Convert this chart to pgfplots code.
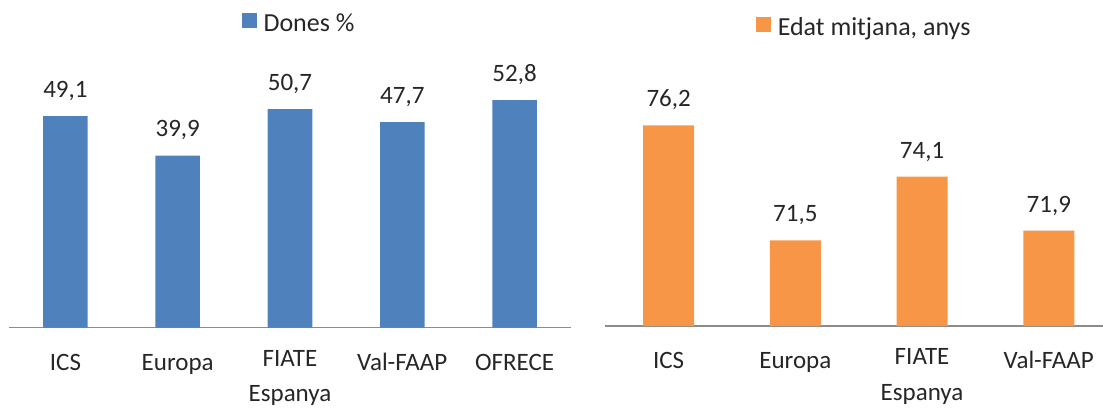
\documentclass[border=0pt]{standalone}
\usepackage{pgfplots}
\pgfplotsset{compat=1.18}
\usepackage{fontspec}
\setmainfont{Carlito}

\definecolor{donesblue}{HTML}{4F81BD}
\definecolor{edatorange}{HTML}{F79646}
\definecolor{axisgray}{HTML}{8C8C8C}

\pgfplotsset{
  barchart/.style={
    ybar,
    scale only axis,
    axis x line*=bottom,
    axis y line=none,
    x axis line style={draw=axisgray, line width=1.5pt},
    xtick=data,
    major tick length=0pt,
    xticklabel style={font=\fontsize{25}{35.5}\selectfont, align=center,
      anchor=north, inner sep=0pt, yshift=-22.5pt, text=black!85,
      execute at begin node={\rule{0pt}{20pt}}},
    enlarge x limits=false,
    nodes near coords,
    /pgf/number format/.cd, use comma, fixed, fixed zerofill, precision=1,
      assume math mode=true,
    /pgfplots/.cd,
    every node near coord/.append style={font=\fontsize{25}{30}\selectfont,
      text=black!85, anchor=base, inner sep=0pt, yshift=19pt},
    legend style={draw=none, fill=none, font=\fontsize{26}{30}\selectfont,
      text=black!85, anchor=center},
    legend image code/.code={\fill[##1] (-4pt,-5pt) rectangle (11pt,10pt);},
    clip=false,
  },
}

\begin{document}
\begin{tikzpicture}
\useasboundingbox (0,0) rectangle (1103pt,410pt);

% left chart: share of women
\begin{axis}[barchart,
  at={(9.3pt,82.5pt)}, anchor=south west,
  width=561.4pt, height=267.0pt,
  xmin=-0.5, xmax=4.5, ymin=0, ymax=62,
  bar width=44.5pt,
  xticklabels={ICS, Europa, {FIATE\\Espanya}, Val-FAAP, OFRECE},
  legend style={at={(axis description cs:0.516,1.140)}},
]
\addplot[fill=donesblue, draw=none] coordinates {
  (0,49.1) (1,39.9) (2,50.7) (3,47.7) (4,52.8)
};
\addlegendentry{\hspace{5pt}Dones \%}
\end{axis}

% right chart: mean age
\begin{axis}[barchart,
  at={(605.3pt,84pt)}, anchor=south west,
  width=497.7pt, height=244.7pt,
  xmin=-0.5, xmax=3.428, ymin=68, ymax=78,
  bar width=51pt,
  xticklabels={ICS, Europa, {FIATE\\Espanya}, Val-FAAP},
  legend style={at={(axis description cs:0.52,1.222)}},
  every node near coord/.append style={yshift=-0.5pt},
]
\addplot[fill=edatorange, draw=none] coordinates {
  (0,76.2) (1,71.5) (2,74.1) (3,71.9)
};
\addlegendentry{\hspace{5pt}Edat mitjana, anys}
\end{axis}
\end{tikzpicture}
\end{document}
